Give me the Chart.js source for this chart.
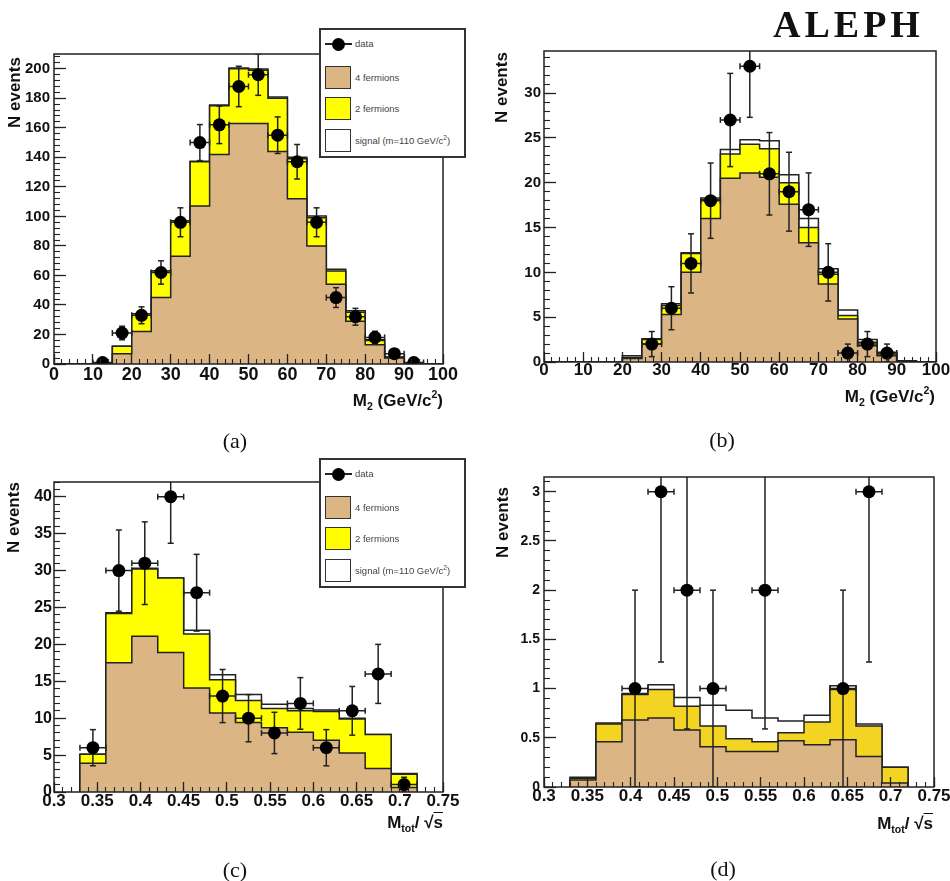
<!DOCTYPE html>
<html>
<head>
<meta charset="utf-8">
<script src="https://cdn.jsdelivr.net/npm/chart.js@4.4.0/dist/chart.umd.min.js"></script>
<style>
body { margin: 0; background: #fff; width: 950px; height: 881px; position: relative; overflow: hidden;
       font-family: 'Liberation Sans', Arial, sans-serif; }
canvas { position: absolute; }
.t { position: absolute; white-space: nowrap; color: #111; }
.xt { font-size: 17px; font-weight: bold; line-height: 20px; }
.yt { font-size: 17px; font-weight: bold; line-height: 20px; transform-origin: 0 0; transform: rotate(-90deg); }
.xt sub, .xt sup { font-size: 0.62em; line-height: 0; }
.xt sub { vertical-align: -0.35em; }
.xt sup { vertical-align: 0.75em; }
.ol { text-decoration: overline; }
.pl { font-family: 'Liberation Serif', 'Times New Roman', serif; font-size: 22px; line-height: 22px; width: 60px; text-align: center; }
.aleph { font-family: 'Liberation Serif', 'Times New Roman', serif; font-size: 38px; font-weight: bold; line-height: 38px; letter-spacing: 4px; }
.leg { position: absolute; width: 143px; height: 126px; border: 2px solid #333; background: #fff; }
.leg div { position: absolute; }
.leg .dline { left: 4px; top: 13px; width: 27px; height: 2px; background: #222; }
.leg .dot { left: 11px; top: 8px; width: 13px; height: 13px; border-radius: 50%; background: #000; }
.leg .sq { left: 4px; width: 24px; height: 21px; border: 1.5px solid #333; }
.leg .lt { left: 34px; font-size: 9.5px; line-height: 12px; color: #444; white-space: nowrap; }
.leg .lt sup { font-size: 0.7em; line-height: 0; }
</style>
</head>
<body>
<canvas id="chartA" width="475" height="420" style="left:0;top:0"></canvas>
<canvas id="chartB" width="475" height="420" style="left:475px;top:0"></canvas>
<canvas id="chartC" width="475" height="430" style="left:0;top:430px"></canvas>
<canvas id="chartD" width="475" height="430" style="left:475px;top:430px"></canvas>

<div class="t aleph" style="left:773px;top:5px">ALEPH</div>

<div class="t yt" style="left:5px;top:128px">N events</div>
<div class="t yt" style="left:492px;top:123px">N events</div>
<div class="t yt" style="left:4px;top:553px">N events</div>
<div class="t yt" style="left:493px;top:558px">N events</div>

<div class="t xt" style="right:507px;top:391px">M<sub>2</sub> (GeV/c<sup>2</sup>)</div>
<div class="t xt" style="right:15px;top:387px">M<sub>2</sub> (GeV/c<sup>2</sup>)</div>
<div class="t xt" style="right:507px;top:813px">M<sub>tot</sub>/ √<span class="ol">s</span></div>
<div class="t xt" style="right:17px;top:814px">M<sub>tot</sub>/ √<span class="ol">s</span></div>

<div class="t pl" style="left:205px;top:430px">(a)</div>
<div class="t pl" style="left:692px;top:429px">(b)</div>
<div class="t pl" style="left:205px;top:859px">(c)</div>
<div class="t pl" style="left:693px;top:858px">(d)</div>

<div class="leg" style="left:319px;top:28px">
  <div class="dline"></div><div class="dot"></div>
  <div class="lt" style="top:8px">data</div>
  <div class="sq" style="top:36px;background:#dcb584"></div>
  <div class="lt" style="top:42px">4 fermions</div>
  <div class="sq" style="top:67px;background:#ffff00"></div>
  <div class="lt" style="top:73px">2 fermions</div>
  <div class="sq" style="top:99px;background:#fff"></div>
  <div class="lt" style="top:105px">signal (m=110 GeV/c<sup>2</sup>)</div>
</div>
<div class="leg" style="left:319px;top:458px">
  <div class="dline"></div><div class="dot"></div>
  <div class="lt" style="top:8px">data</div>
  <div class="sq" style="top:36px;background:#dcb584"></div>
  <div class="lt" style="top:42px">4 fermions</div>
  <div class="sq" style="top:67px;background:#ffff00"></div>
  <div class="lt" style="top:73px">2 fermions</div>
  <div class="sq" style="top:99px;background:#fff"></div>
  <div class="lt" style="top:105px">signal (m=110 GeV/c<sup>2</sup>)</div>
</div>

<script>
// bin edges and tick labels
const m2Edges = [0, 5, 10, 15, 20, 25, 30, 35, 40, 45, 50, 55, 60, 65, 70, 75, 80, 85, 90, 95, 100];
const m2Ticks = [0, 10, 20, 30, 40, 50, 60, 70, 80, 90, 100];
const mtotEdges = [0.33, 0.36, 0.39, 0.42, 0.45, 0.48, 0.51, 0.54, 0.57, 0.60, 0.63, 0.66, 0.69, 0.72];
const mtotTicks = [0.3, 0.35, 0.4, 0.45, 0.5, 0.55, 0.6, 0.65, 0.7, 0.75];

// (a) M2, preselection
const aYTicks = [0, 20, 40, 60, 80, 100, 120, 140, 160, 180, 200];
const a4f = [0, 0, 0.3, 7, 22, 45, 73, 107, 142, 163, 163, 144, 112, 80, 54, 29, 13, 4, 0.3, 0];
const a2f = [0, 0, 0.1, 5, 12, 18, 24, 30, 33, 37, 36, 36, 27, 19, 9, 6, 3, 0.6, 0.1, 0];
const aSig = [0, 0, 0, 0, 0, 0, 0, 0.3, 0.5, 0.6, 0.8, 0.8, 1, 1.2, 1.2, 1, 0.5, 0.2, 0, 0];
const aDataX = [12.5, 17.5, 22.5, 27.5, 32.5, 37.5, 42.5, 47.5, 52.5, 57.5, 62.5, 67.5, 72.5, 77.5, 82.5, 87.5, 92.5];
const aDataY = [1, 21, 33, 62, 96, 150, 162, 188, 196, 155, 137, 96, 45, 32, 18, 7, 1];
const aDataErr = [1, 4.6, 5.7, 7.9, 9.8, 12.2, 12.7, 13.7, 14, 12.4, 11.7, 9.8, 6.7, 5.7, 4.2, 2.6, 1];

// (b) M2, final selection
const bYTicks = [0, 5, 10, 15, 20, 25, 30];
const b4f = [0, 0, 0, 0, 0.4, 2.0, 5.3, 10.0, 16.0, 20.5, 21.1, 20.6, 17.6, 13.3, 8.7, 4.8, 1.8, 0.7, 0.05, 0];
const b2f = [0, 0, 0, 0, 0.1, 0.5, 1.0, 2.1, 2.1, 2.7, 3.2, 3.2, 2.4, 1.7, 1.1, 0.4, 0.4, 0.2, 0.05, 0];
const bSig = [0, 0, 0, 0, 0.2, 0.1, 0.2, 0.1, 0.2, 0.5, 0.5, 0.9, 0.9, 1.0, 0.6, 0.6, 0.3, 0.2, 0.05, 0];
const bDataX = [27.5, 32.5, 37.5, 42.5, 47.5, 52.5, 57.5, 62.5, 67.5, 72.5, 77.5, 82.5, 87.5];
const bDataY = [2, 6, 11, 18, 27, 33, 21, 19, 17, 10, 1, 2, 1];
const bDataErr = [1.4, 2.4, 3.3, 4.2, 5.2, 5.7, 4.6, 4.4, 4.1, 3.2, 1, 1.4, 1];

// (c) Mtot/sqrt(s), preselection
const cYTicks = [0, 5, 10, 15, 20, 25, 30, 35, 40];
const c4f = [3.9, 17.5, 21.1, 18.9, 14.1, 10.7, 9.4, 8.7, 8.1, 7.0, 5.3, 3.2, 0.6];
const c2f = [1.2, 6.7, 9.1, 10.1, 7.3, 4.5, 3.0, 2.6, 2.9, 3.9, 4.6, 4.6, 1.8];
const cSig = [0, 0.1, 0.1, 0, 0.5, 0.7, 0.8, 0.6, 0.3, 0.2, 0.1, 0, 0.1];
const cDataX = [0.345, 0.375, 0.405, 0.435, 0.465, 0.495, 0.525, 0.555, 0.585, 0.615, 0.645, 0.675, 0.705];
const cDataY = [6, 30, 31, 40, 27, 13, 10, 8, 12, 6, 11, 16, 1];
const cDataErr = [2.45, 5.5, 5.6, 6.3, 5.2, 3.6, 3.2, 2.8, 3.5, 2.45, 3.3, 4, 1];

// (d) Mtot/sqrt(s), final selection
const dYTicks = [0, 0.5, 1, 1.5, 2, 2.5, 3];
const d4f = [0.07, 0.46, 0.68, 0.70, 0.58, 0.41, 0.36, 0.36, 0.47, 0.43, 0.48, 0.31, 0.04];
const d2f = [0.02, 0.18, 0.26, 0.29, 0.24, 0.21, 0.13, 0.10, 0.08, 0.23, 0.51, 0.31, 0.16];
const dSig = [0.01, 0.01, 0.01, 0.05, 0.09, 0.21, 0.29, 0.24, 0.12, 0.07, 0.04, 0.02, 0];
const dDataX = [0.405, 0.435, 0.465, 0.495, 0.555, 0.645, 0.675];
const dDataY = [1, 3, 2, 1, 2, 1, 3];
const dDataErr = [1, 1.73, 1.41, 1, 1.41, 1, 1.73];

const TAN = '#dcb584';
const LINE = '#222';
const FONT = "'Liberation Sans', Arial, sans-serif";

// step outline of a histogram, closed down to zero at both ends
function histLine(edges, vals) {
    const pts = [{ x: edges[0], y: 0 }];
    vals.forEach((v, i) => pts.push({ x: edges[i], y: v }));
    pts.push({ x: edges[edges.length - 1], y: vals[vals.length - 1] });
    pts.push({ x: edges[edges.length - 1], y: 0 });
    return pts;
}

function minorTicks(min, max, step) {
    const out = [];
    for (let i = 0; min + i * step <= max + 1e-9; i++) out.push({ value: +(min + i * step).toFixed(4) });
    return out;
}

const fmt = v => String(+v.toFixed(2));

const framePlugin = {
    id: 'frame',
    afterDraw(chart) {
        const { ctx, chartArea: a } = chart;
        ctx.save();
        ctx.strokeStyle = LINE;
        ctx.lineWidth = 1.5;
        ctx.strokeRect(a.left, a.top, a.right - a.left, a.bottom - a.top);
        ctx.restore();
    }
};

function drawPanel(id, p) {
    const lvl1 = p.f4;
    const lvl2 = p.f4.map((v, i) => v + p.f2[i]);
    const lvl3 = lvl2.map((v, i) => v + p.sig[i]);

    const vErr = [], hErr = [];
    p.dataX.forEach((x, i) => {
        const y = p.dataY[i], e = p.err[i];
        vErr.push({ x, y: y - e }, { x, y: y + e }, { x, y: null });
        hErr.push({ x: x - p.halfBin, y }, { x: x + p.halfBin, y }, { x, y: null });
    });

    const histo = (data, color) => ({
        data, stepped: 'before', fill: 'origin', backgroundColor: color,
        borderColor: LINE, borderWidth: 1.5, pointRadius: 0
    });

    const canvas = document.getElementById(id);
    const W = canvas.width, H = canvas.height;
    const area = p.area;

    new Chart(canvas, {
        type: 'line',
        data: {
            datasets: [
                { data: p.dataX.map((x, i) => ({ x, y: p.dataY[i] })), showLine: false,
                  pointRadius: 6.5, pointBackgroundColor: '#000', pointBorderWidth: 0 },
                { data: vErr, borderColor: LINE, borderWidth: 1.5, pointStyle: 'line',
                  pointRadius: 3, pointBorderColor: LINE, pointBorderWidth: 1.5 },
                { data: hErr, borderColor: LINE, borderWidth: 1.5, pointStyle: 'line', pointRotation: 90,
                  pointRadius: 3, pointBorderColor: LINE, pointBorderWidth: 1.5 },
                histo(histLine(p.edges, lvl1), TAN),
                histo(histLine(p.edges, lvl2), p.yellow),
                histo(histLine(p.edges, lvl3), '#ffffff')
            ]
        },
        options: {
            responsive: false,
            animation: false,
            events: [],
            layout: { autoPadding: false, padding: { left: 0, top: area.top, right: W - area.right, bottom: 0 } },
            plugins: { legend: { display: false }, tooltip: { enabled: false } },
            scales: {
                x: {
                    type: 'linear', position: 'bottom', weight: 1, min: p.xMin, max: p.xMax,
                    afterBuildTicks: s => { s.ticks = p.xTicks.map(v => ({ value: v })); },
                    afterFit: s => { s.height = H - area.bottom; s.paddingLeft = 0; s.paddingRight = 0; },
                    grid: { drawOnChartArea: false, tickLength: -10, tickColor: LINE, tickWidth: 1.3, z: 1 },
                    border: { display: false },
                    ticks: { autoSkip: false, maxRotation: 0, padding: p.xPad, color: '#111',
                             font: { family: FONT, weight: 'bold', size: p.xFont }, callback: fmt }
                },
                x2: {
                    type: 'linear', position: 'bottom', weight: 0, min: p.xMin, max: p.xMax,
                    afterBuildTicks: s => { s.ticks = minorTicks(p.xMin, p.xMax, p.xMinor); },
                    afterFit: s => { s.height = 0; s.paddingLeft = 0; s.paddingRight = 0; },
                    grid: { drawOnChartArea: false, tickLength: -5, tickColor: LINE, tickWidth: 1.1, z: 1 },
                    border: { display: false },
                    ticks: { display: false }
                },
                y: {
                    type: 'linear', position: 'left', weight: 1, min: 0, max: p.yMax,
                    afterBuildTicks: s => { s.ticks = p.yTicks.map(v => ({ value: v })); },
                    afterFit: s => { s.width = area.left; s.paddingTop = 0; s.paddingBottom = 0; },
                    grid: { drawOnChartArea: false, tickLength: -12, tickColor: LINE, tickWidth: 1.3, z: 1 },
                    border: { display: false },
                    ticks: { padding: p.yPad, color: '#111',
                             font: { family: FONT, weight: 'bold', size: p.yFont }, callback: fmt }
                },
                y2: {
                    type: 'linear', position: 'left', weight: 0, min: 0, max: p.yMax,
                    afterBuildTicks: s => { s.ticks = minorTicks(0, p.yMax, p.yMinor); },
                    afterFit: s => { s.width = 0; s.paddingTop = 0; s.paddingBottom = 0; },
                    grid: { drawOnChartArea: false, tickLength: -6, tickColor: LINE, tickWidth: 1.1, z: 1 },
                    border: { display: false },
                    ticks: { display: false }
                }
            }
        },
        plugins: [framePlugin]
    });
}

drawPanel('chartA', {
    edges: m2Edges, f4: a4f, f2: a2f, sig: aSig, yellow: '#ffff00',
    dataX: aDataX, dataY: aDataY, err: aDataErr, halfBin: 2.5,
    xMin: 0, xMax: 100, xTicks: m2Ticks, xMinor: 2, yMax: 210, yTicks: aYTicks, yMinor: 4,
    area: { left: 54, top: 54, right: 443, bottom: 364 },
    xFont: 18, yFont: 15, xPad: 10, yPad: 16
});

drawPanel('chartB', {
    edges: m2Edges, f4: b4f, f2: b2f, sig: bSig, yellow: '#ffff00',
    dataX: bDataX, dataY: bDataY, err: bDataErr, halfBin: 2.5,
    xMin: 0, xMax: 100, xTicks: m2Ticks, xMinor: 2, yMax: 34.7, yTicks: bYTicks, yMinor: 1,
    area: { left: 69, top: 51, right: 461, bottom: 362 },
    xFont: 17, yFont: 15, xPad: 8, yPad: 15
});

drawPanel('chartC', {
    edges: mtotEdges, f4: c4f, f2: c2f, sig: cSig, yellow: '#ffff00',
    dataX: cDataX, dataY: cDataY, err: cDataErr, halfBin: 0.015,
    xMin: 0.3, xMax: 0.75, xTicks: mtotTicks, xMinor: 0.01, yMax: 42, yTicks: cYTicks, yMinor: 1,
    area: { left: 54, top: 52, right: 443, bottom: 362 },
    xFont: 17, yFont: 16, xPad: 9, yPad: 14
});

drawPanel('chartD', {
    edges: mtotEdges, f4: d4f, f2: d2f, sig: dSig, yellow: '#f4d422',
    dataX: dDataX, dataY: dDataY, err: dDataErr, halfBin: 0.015,
    xMin: 0.3, xMax: 0.75, xTicks: mtotTicks, xMinor: 0.01, yMax: 3.15, yTicks: dYTicks, yMinor: 0.1,
    area: { left: 69, top: 47, right: 459, bottom: 357 },
    xFont: 17, yFont: 14, xPad: 9, yPad: 16
});
</script>
</body>
</html>
